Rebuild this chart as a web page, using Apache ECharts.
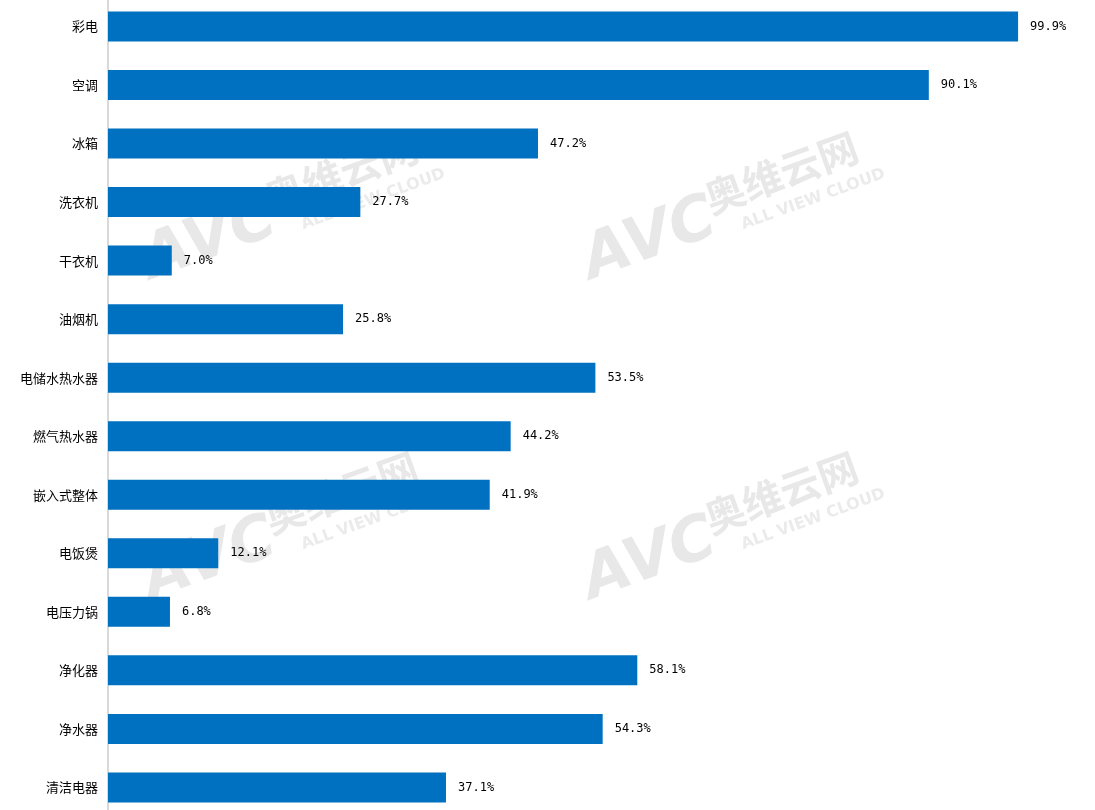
<!DOCTYPE html>
<html><head><meta charset="utf-8">
<script src="https://cdn.jsdelivr.net/npm/echarts@6/dist/echarts.min.js"></script>
<style>html,body{margin:0;padding:0;background:#fff}#c{width:1095px;height:810px}</style>
</head><body><div id="c"></div>
<script>
const categories = ['彩电','空调','冰箱','洗衣机','干衣机','油烟机','电储水热水器','燃气热水器','嵌入式整体','电饭煲','电压力锅','净化器','净水器','清洁电器'];
const values = [99.9, 90.1, 47.2, 27.7, 7.0, 25.8, 53.5, 44.2, 41.9, 12.1, 6.8, 58.1, 54.3, 37.1];

const chart = echarts.init(document.getElementById('c'));
const wm = [];
[[135,235],[575,235],[135,555],[575,555]].forEach(function(p){
  wm.push({type:'group', x:p[0], y:p[1], rotation: 20*Math.PI/180, z:100, children:[
    {type:'text', x:0, y:0, style:{text:'AVC', font:'italic bold 62px "DejaVu Sans"', fill:'rgba(190,190,190,0.35)'}},
    {type:'text', x:135, y:-8, style:{text:'奥维云网', font:'bold 40px "Noto Sans CJK SC"', fill:'rgba(190,190,190,0.35)'}},
    {type:'text', x:160, y:40, style:{text:'ALL VIEW CLOUD', font:'bold 16px "DejaVu Sans"', fill:'rgba(190,190,190,0.3)'}}
  ]});
});
chart.setOption({
  animation:false,
  grid:{left:108, top:-2.8, width:911, height:819.5, outerBoundsMode:'none', containLabel:false},
  xAxis:{type:'value', min:0, max:100, show:false},
  yAxis:{type:'category', inverse:true, data:categories,
    axisLine:{show:true, lineStyle:{color:'#d9d9d9', width:2}},
    axisTick:{show:false},
    axisLabel:{color:'#000', fontSize:13, margin:10, fontFamily:'"Noto Sans CJK SC"'}},
  series:[{type:'bar', data:values, barWidth:30,
    itemStyle:{color:'#0070C0'},
    label:{show:true, position:'right', distance:12, color:'#000', fontSize:12,
      fontFamily:'"DejaVu Sans Mono"', formatter:function(p){return p.value.toFixed(1)+'%';}}}],
  graphic: wm
});
</script></body></html>
